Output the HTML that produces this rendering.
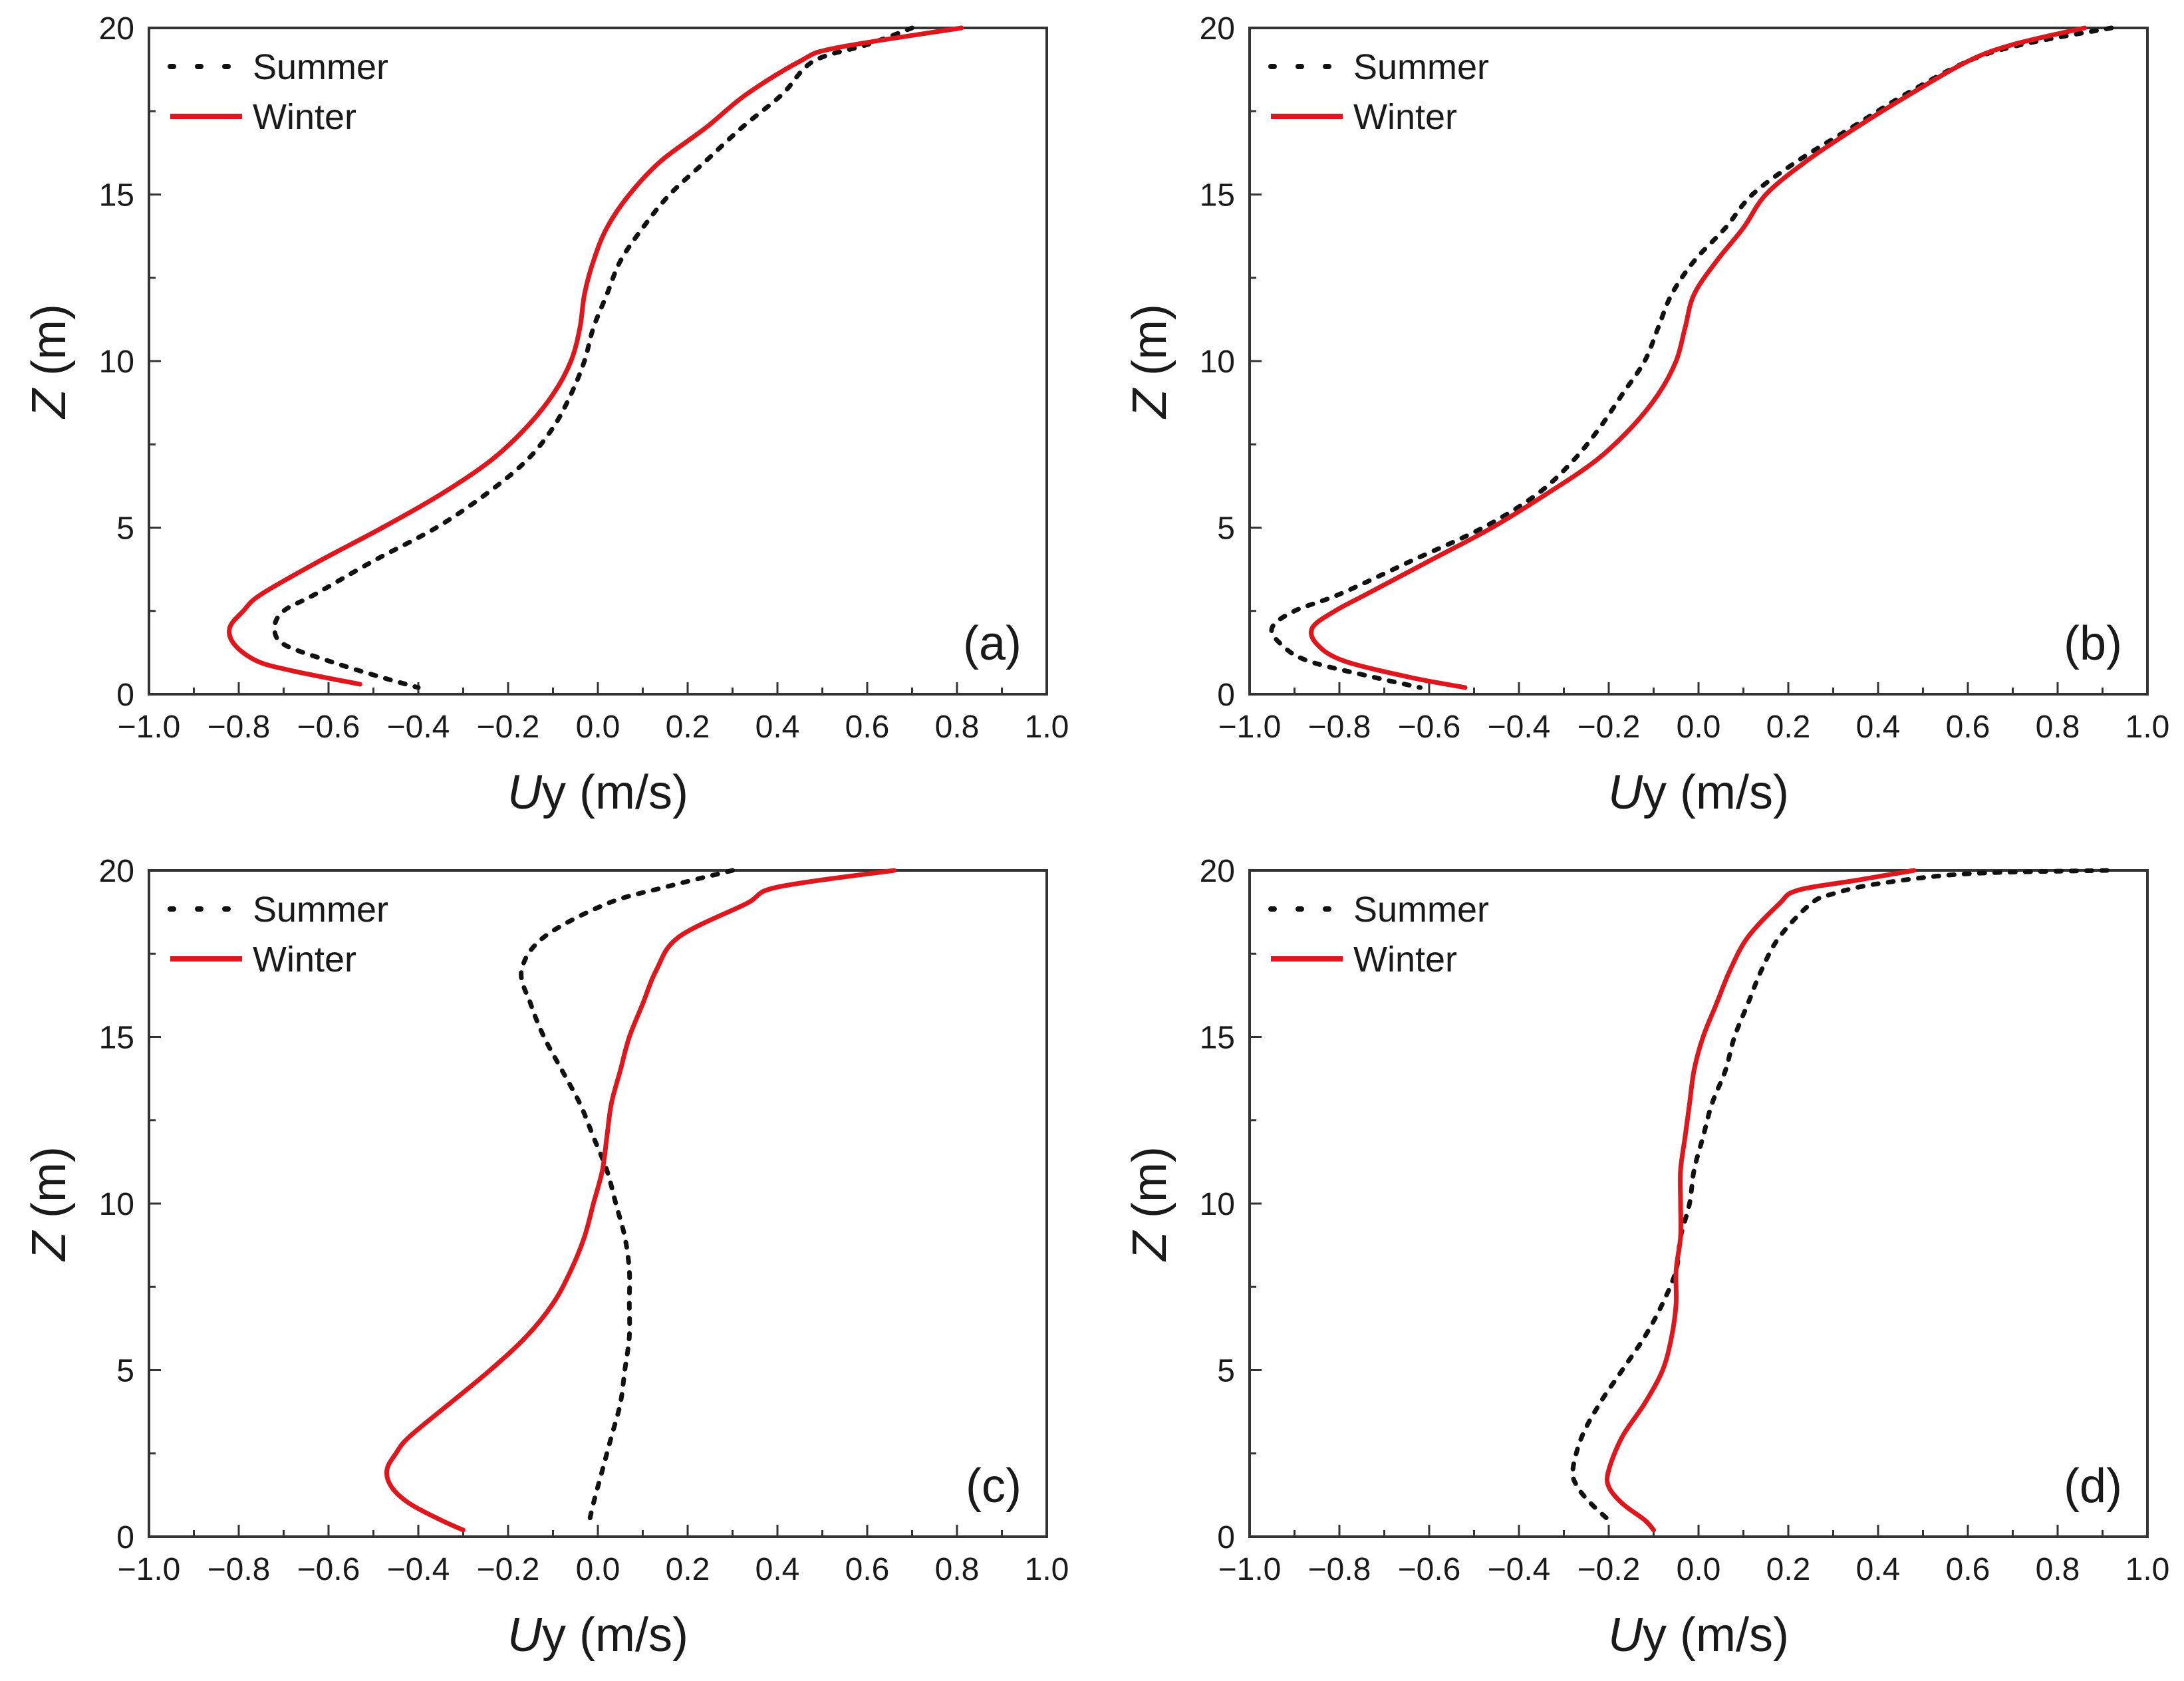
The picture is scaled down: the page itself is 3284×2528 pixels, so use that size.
<!DOCTYPE html>
<html><head><meta charset="utf-8"><style>
html,body{margin:0;padding:0;background:#fff}
svg{display:block}
text{font-family:"Liberation Sans",Arial,sans-serif;fill:#1a1a1a}
</style></head><body>
<svg id="fig" width="3284" height="2528" viewBox="0 0 3284 2528" xmlns="http://www.w3.org/2000/svg"></svg>
<script>
const xTicks = [-1.0,-0.8,-0.6,-0.4,-0.2,0.0,0.2,0.4,0.6,0.8,1.0];
const yTicks = [0,5,10,15,20];
const panelLabels = ["(a)","(b)","(c)","(d)"];
const seriesNames = ["Summer","Winter"];

const aWinterZ = [20,19.4,19,18,17,16,15,14,13,12,11,10,9,8,7,6,5,4,3,2.5,2,1.5,1,0.7,0.3];
const aWinterU = [0.81,0.53,0.45,0.33,0.24,0.14,0.07,0.02,-0.01,-0.03,-0.04,-0.06,-0.1,-0.16,-0.24,-0.35,-0.48,-0.62,-0.75,-0.79,-0.82,-0.81,-0.76,-0.68,-0.53];
const aSummerZ = [20,19.5,19,18,17,16,15,14,13,12,11,10,9,8,7,6,5,4,3,2.5,2,1.5,1,0.5,0.2];
const aSummerU = [0.7,0.6,0.48,0.41,0.32,0.24,0.16,0.1,0.05,0.02,-0.01,-0.03,-0.06,-0.1,-0.16,-0.25,-0.36,-0.5,-0.63,-0.7,-0.72,-0.7,-0.6,-0.48,-0.4];

const bWinterZ = [20,19.5,19,18,17,16,15,14,13,12,11,10,9,8,7,6,5,4,3,2.5,2,1.5,1,0.5,0.2];
const bWinterU = [0.86,0.7,0.6,0.47,0.35,0.24,0.15,0.1,0.04,-0.01,-0.03,-0.05,-0.09,-0.15,-0.23,-0.34,-0.46,-0.6,-0.74,-0.81,-0.86,-0.85,-0.79,-0.64,-0.52];
const bSummerZ = [20,19.5,19,18,17,16,15,14,13,12,11,10,9,8,7,6,5,4,3,2.5,2,1.5,1,0.5,0.2];
const bSummerU = [0.92,0.72,0.6,0.46,0.34,0.22,0.12,0.06,-0.01,-0.06,-0.09,-0.12,-0.17,-0.22,-0.28,-0.36,-0.48,-0.64,-0.8,-0.9,-0.95,-0.93,-0.87,-0.72,-0.62];

const cWinterZ = [20,19.5,19,18,17,16,15,14,13,12,11,10,9,8,7,6,5,4,3,2.5,2,1.5,1,0.5,0.2];
const cWinterU = [0.66,0.4,0.33,0.18,0.13,0.1,0.07,0.05,0.03,0.02,0.01,-0.01,-0.03,-0.06,-0.1,-0.16,-0.24,-0.33,-0.42,-0.45,-0.47,-0.46,-0.42,-0.35,-0.3];
const cSummerZ = [20,19.5,19,18,17,16,15,14,13,12,11,10,9,8,7,6,5,4,3,2,1,0.4];
const cSummerU = [0.3,0.15,0.02,-0.12,-0.17,-0.15,-0.12,-0.08,-0.04,-0.01,0.02,0.04,0.06,0.07,0.07,0.07,0.06,0.05,0.03,0.01,-0.01,-0.02];

const dWinterZ = [20,19.7,19.4,19,18,17,16,15,14,13,12,11,10,9,8,7,6,5,4,3,2,1.5,1,0.5,0.2];
const dWinterU = [0.48,0.35,0.22,0.18,0.11,0.07,0.04,0.01,-0.01,-0.02,-0.03,-0.04,-0.04,-0.04,-0.05,-0.05,-0.06,-0.08,-0.12,-0.17,-0.2,-0.2,-0.17,-0.12,-0.1];
const dSummerZ = [20,19.9,19.6,19.3,19,18,17,16,15,14,13,12,11,10,9,8,7,6,5,4,3,2,1.5,1,0.5];
const dSummerU = [0.91,0.6,0.4,0.3,0.25,0.18,0.14,0.11,0.08,0.06,0.03,0.01,-0.01,-0.02,-0.04,-0.05,-0.08,-0.12,-0.17,-0.22,-0.26,-0.28,-0.27,-0.24,-0.2];

const panels = [
  {ox:224, oy:42, sz:aSummerZ, su:aSummerU, wz:aWinterZ, wu:aWinterU},
  {ox:1879, oy:42, sz:bSummerZ, su:bSummerU, wz:bWinterZ, wu:bWinterU},
  {ox:224, oy:1309, sz:cSummerZ, su:cSummerU, wz:cWinterZ, wu:cWinterU},
  {ox:1879, oy:1309, sz:dSummerZ, su:dSummerU, wz:dWinterZ, wu:dWinterU}
];
const W = 1350, H = 1002;
const NS = "http://www.w3.org/2000/svg";
const fig = document.getElementById('fig');
function mk(tag, attrs, parent, txt){
  const e = document.createElementNS(NS, tag);
  for (const k in attrs) e.setAttribute(k, attrs[k]);
  if (txt !== undefined) e.textContent = txt;
  parent.appendChild(e);
  return e;
}
function smoothPath(P){
  let d = 'M' + P[0][0].toFixed(1) + ',' + P[0][1].toFixed(1);
  for (let i = 0; i < P.length - 1; i++) {
    const p0 = P[Math.max(i-1,0)], p1 = P[i], p2 = P[i+1], p3 = P[Math.min(i+2,P.length-1)];
    const c1x = p1[0] + (p2[0]-p0[0])/6, c1y = p1[1] + (p2[1]-p0[1])/6;
    const c2x = p2[0] - (p3[0]-p1[0])/6, c2y = p2[1] - (p3[1]-p1[1])/6;
    d += ' C' + c1x.toFixed(1) + ',' + c1y.toFixed(1) + ' ' + c2x.toFixed(1) + ',' + c2y.toFixed(1) + ' ' + p2[0].toFixed(1) + ',' + p2[1].toFixed(1);
  }
  return d;
}
panels.forEach((p, i) => {
  const letter = "abcd"[i];
  const g = mk('g', {}, fig);
  
  
  const xs = v => p.ox + (v + 1) / 2 * W;
  const ys = z => p.oy + H - z / 20 * H;
  const fr = mk('rect', {x:p.ox, y:p.oy, width:W, height:H, fill:'none', stroke:'#333', 'stroke-width':4}, g);
  
  
  for (let k = 0; k <= 20; k++) {
    const v = -1 + k * 0.1;
    const len = (k % 2 === 0) ? 18 : 10;
    const t = mk('line', {x1:xs(v), x2:xs(v), y1:p.oy+H, y2:p.oy+H-len, stroke:'#333', 'stroke-width':3}, g);
    
    
  }
  xTicks.forEach(v => {
    const lbl = (v < 0 ? '\u2212' + Math.abs(v).toFixed(1) : v.toFixed(1));
    const t = mk('text', {x:xs(v), y:p.oy+H+65, 'font-size':48, 'text-anchor':'middle'}, g, lbl);
    
    
  });
  for (let k = 0; k <= 8; k++) {
    const z = k * 2.5;
    const len = (k % 2 === 0) ? 18 : 10;
    const t = mk('line', {x1:p.ox, x2:p.ox+len, y1:ys(z), y2:ys(z), stroke:'#333', 'stroke-width':3}, g);
    
    
  }
  yTicks.forEach(z => {
    const t = mk('text', {x:p.ox-22, y:ys(z)+17, 'font-size':48, 'text-anchor':'end'}, g, String(z));
    
    
  });
  const xt = mk('text', {x:p.ox+W/2, y:p.oy+H+172, 'font-size':72, 'text-anchor':'middle'}, g);
  
  
  mk('tspan', {'font-style':'italic'}, xt, 'U');
  mk('tspan', {}, xt, 'y (m/s)');
  const yt = mk('text', {x:0, y:0, 'font-size':72, 'text-anchor':'middle', transform:'translate('+(p.ox-126)+','+(p.oy+H/2)+') rotate(-90)'}, g);
  
  
  mk('tspan', {'font-style':'italic'}, yt, 'Z');
  mk('tspan', {}, yt, ' (m)');
  const pts = (zs, us) => zs.map((z, j) => [xs(us[j]), ys(z)]);
  const sl = mk('path', {d:smoothPath(pts(p.sz, p.su)), fill:'none', stroke:'#111', 'stroke-width':7, 'stroke-dasharray':'8 15', 'stroke-linecap':'round', 'stroke-linejoin':'round'}, g);
  
  
  const wl = mk('path', {d:smoothPath(pts(p.wz, p.wu)), fill:'none', stroke:'#e0161d', 'stroke-width':7, 'stroke-linecap':'round', 'stroke-linejoin':'round'}, g);
  
  
  const lg = mk('g', {}, g);
  
  
  const l1 = mk('line', {x1:p.ox+32, x2:p.ox+140, y1:p.oy+58, y2:p.oy+58, stroke:'#111', 'stroke-width':8, 'stroke-dasharray':'5 36', 'stroke-linecap':'round'}, lg);
  
  
  const t1 = mk('text', {x:p.ox+156, y:p.oy+77, 'font-size':54}, lg, seriesNames[0]);
  
  
  const l2 = mk('line', {x1:p.ox+32, x2:p.ox+140, y1:p.oy+133, y2:p.oy+133, stroke:'#e0161d', 'stroke-width':8}, lg);
  
  
  const t2 = mk('text', {x:p.ox+156, y:p.oy+152, 'font-size':54}, lg, seriesNames[1]);
  
  
  const pl = mk('text', {x:p.ox+W-38, y:p.oy+H-52, 'font-size':72, 'text-anchor':'end'}, g, panelLabels[i]);
  
  
});
</script>
</body></html>
